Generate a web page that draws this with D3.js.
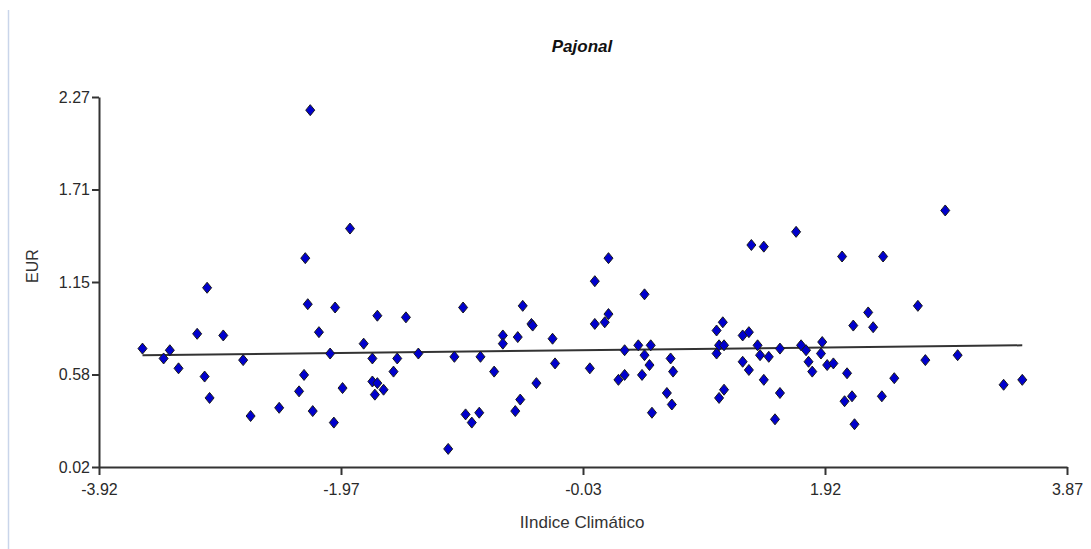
<!DOCTYPE html>
<html>
<head>
<meta charset="utf-8">
<script src="https://cdn.jsdelivr.net/npm/d3@7"></script>
<style>
  body { margin: 0; background: #fff; }
  svg { display: block; font-family: "Liberation Sans", Arial, sans-serif; }
</style>
</head>
<body>
<div id="chart"></div>
<script>
// Chart size and plot box
const width = 1091;
const height = 549;
const margin = {left: 99, right: 24, top: 97, bottom: 82};

// Data
const indice = [-3.57,-3.40,-3.35,-3.28,-3.13,-3.05,-3.07,-3.03,-2.92,-2.76,
  -2.70,-2.47,-2.31,-2.27,-2.26,-2.24,-2.22,-2.20,-2.15,-2.06,
  -2.03,-2.02,-1.96,-1.90,-1.79,-1.68,-1.72,-1.72,-1.68,-1.70,
  -1.63,-1.55,-1.52,-1.45,-1.35,-1.11,-1.06,-0.99,-0.97,-0.92,
  -0.86,-0.85,-0.74,-0.67,-0.67,-0.57,-0.53,-0.55,-0.51,-0.44,
  -0.43,-0.40,-0.27,-0.25,0.03,0.07,0.07,0.15,0.18,0.18,
  0.26,0.31,0.31,0.42,0.47,0.47,0.45,0.51,0.52,0.53,
  0.65,0.68,0.69,0.70,1.05,1.10,1.07,1.11,1.05,1.07,
  1.11,1.26,1.31,1.26,1.31,1.33,1.38,1.40,1.43,1.43,
  1.47,1.52,1.56,1.56,1.69,1.73,1.77,1.79,1.82,1.89,
  1.90,1.94,1.99,2.06,2.10,2.15,2.08,2.14,2.16,2.27,
  2.31,2.39,2.38,2.48,2.67,2.73,2.89,2.99,3.36,3.51];

const eur = [0.74,0.68,0.73,0.62,0.83,1.11,0.57,0.44,0.82,0.67,
  0.33,0.38,0.48,0.58,1.29,1.01,2.19,0.36,0.84,0.71,
  0.29,0.99,0.50,1.47,0.77,0.94,0.68,0.54,0.53,0.46,
  0.49,0.60,0.68,0.93,0.71,0.13,0.69,0.99,0.34,0.29,
  0.35,0.69,0.60,0.82,0.77,0.36,0.43,0.81,1.00,0.89,
  0.88,0.53,0.80,0.65,0.62,1.15,0.89,0.90,0.95,1.29,
  0.55,0.58,0.73,0.76,0.70,1.07,0.58,0.64,0.76,0.35,
  0.47,0.68,0.40,0.60,0.85,0.90,0.76,0.76,0.71,0.44,
  0.49,0.82,0.84,0.66,0.61,1.37,0.76,0.70,0.55,1.36,
  0.69,0.31,0.74,0.47,1.45,0.76,0.73,0.66,0.60,0.71,
  0.78,0.64,0.65,1.30,0.59,0.88,0.42,0.45,0.28,0.96,
  0.87,1.30,0.45,0.56,1.00,0.67,1.58,0.70,0.52,0.55];

// trend line end points
const fitX = [-3.57, 3.51];
const fitY = [0.70, 0.76];

// axis ticks
const xTicks = [-3.92, -1.9725, -0.025, 1.9225, 3.87];
const xTickLabels = ["-3.92", "-1.97", "-0.03", "1.92", "3.87"];
const yTicks = [0.02, 0.5825, 1.145, 1.7075, 2.27];
const yTickLabels = ["0.02", "0.58", "1.15", "1.71", "2.27"];

const points = indice.map((x, i) => ({x: x, y: eur[i]}));

let svg = d3.select("#chart")
  .append("svg")
  .attr("width", width)
  .attr("height", height);

// light frame line on the left
svg.append("line")
  .attr("x1", 8.5).attr("x2", 8.5)
  .attr("y1", 10).attr("y2", height)
  .attr("stroke", "#c9d5ea")
  .attr("stroke-width", 1.5);

let xScale = d3.scaleLinear()
  .domain([-3.92, 3.87])
  .range([margin.left, width - margin.right]);

let yScale = d3.scaleLinear()
  .domain([0.02, 2.27])
  .range([height - margin.bottom, margin.top]);

// x axis
let xAxis = svg.append("g")
  .attr("transform", `translate(0,${height - margin.bottom})`)
  .call(d3.axisBottom(xScale)
    .tickValues(xTicks)
    .tickFormat((d, i) => xTickLabels[i])
    .tickSize(8)
    .tickSizeOuter(0)
    .tickPadding(9));

// y axis
let yAxis = svg.append("g")
  .attr("transform", `translate(${margin.left},0)`)
  .call(d3.axisLeft(yScale)
    .tickValues(yTicks)
    .tickFormat((d, i) => yTickLabels[i])
    .tickSize(7)
    .tickSizeOuter(0)
    .tickPadding(2));

[xAxis, yAxis].forEach(g => {
  g.select(".domain").attr("stroke", "#333").attr("stroke-width", 2);
  g.selectAll(".tick line").attr("stroke", "#333").attr("stroke-width", 2);
  g.selectAll(".tick text")
    .attr("fill", "#2a2a2a")
    .attr("font-size", "16px")
    .attr("font-family", "'Liberation Sans', Arial, sans-serif");
});

// trend line
svg.append("line")
  .attr("x1", xScale(fitX[0])).attr("y1", yScale(fitY[0]))
  .attr("x2", xScale(fitX[1])).attr("y2", yScale(fitY[1]))
  .attr("stroke", "#333")
  .attr("stroke-width", 2);

// diamonds
svg.selectAll(".point")
  .data(points)
  .enter()
  .append("path")
    .attr("class", "point")
    .attr("d", "M0,-5.5L4.5,0L0,5.5L-4.5,0Z")
    .attr("transform", d => `translate(${xScale(d.x)},${yScale(d.y)})`)
    .attr("fill", "#0000cd")
    .attr("stroke", "#1a1a1a")
    .attr("stroke-width", 1);

// title
svg.append("text")
  .attr("x", 582)
  .attr("y", 52)
  .attr("text-anchor", "middle")
  .attr("font-size", "17px")
  .attr("font-weight", "bold")
  .attr("font-style", "italic")
  .attr("fill", "#111")
  .text("Pajonal");

// axis titles
svg.append("text")
  .attr("x", 582)
  .attr("y", 528)
  .attr("text-anchor", "middle")
  .attr("font-size", "17px")
  .attr("fill", "#333")
  .text("IIndice Climático");

svg.append("text")
  .attr("transform", "translate(38,266) rotate(-90)")
  .attr("text-anchor", "middle")
  .attr("font-size", "16px")
  .attr("fill", "#333")
  .text("EUR");
</script>
</body>
</html>
